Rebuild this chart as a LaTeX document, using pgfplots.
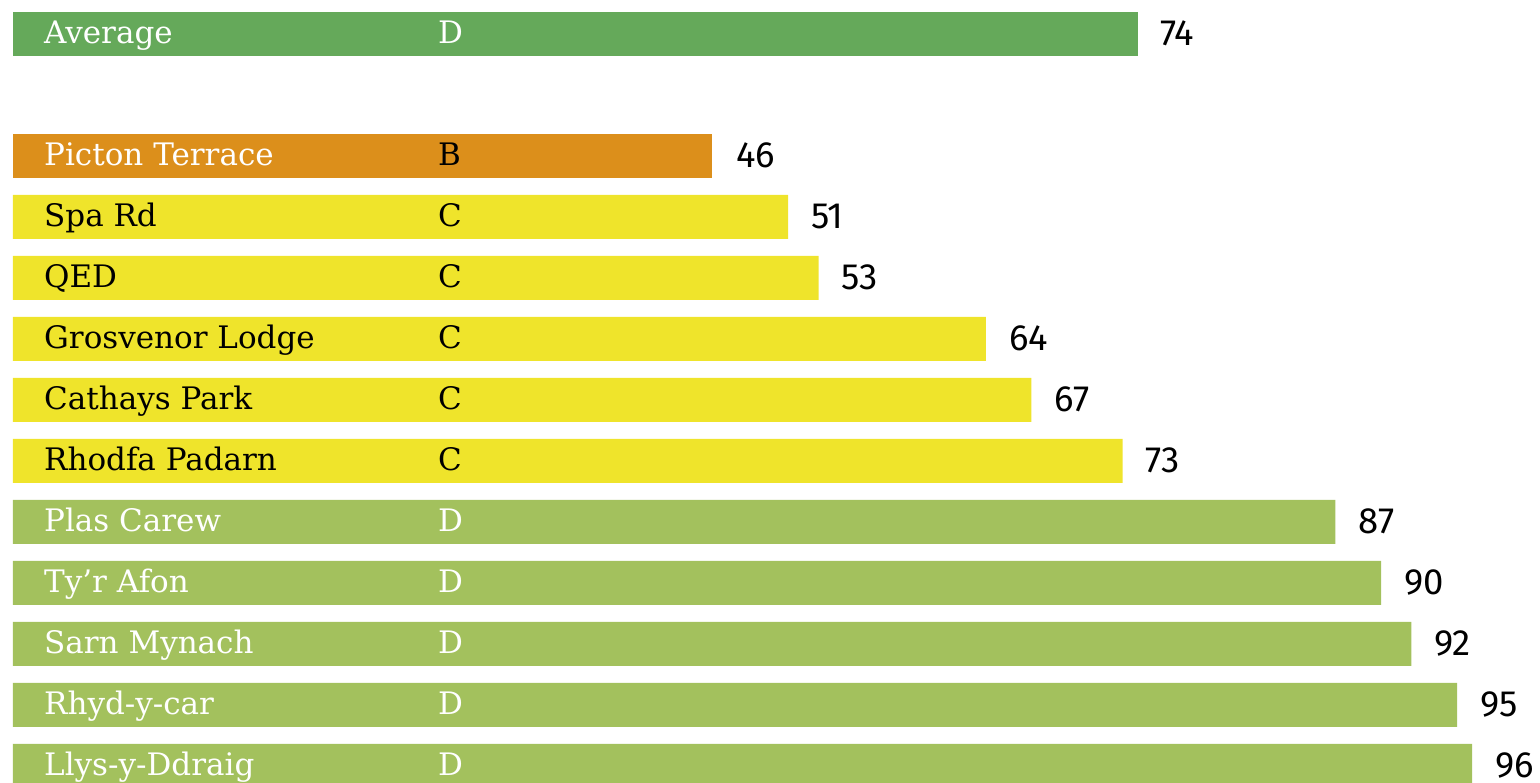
\documentclass[border=0pt]{standalone}
\usepackage{pgfplots}
\pgfplotsset{compat=1.18}
\usepackage{fontspec}
\setmainfont{DejaVu Serif}
\newfontfamily\numfont{Fira Sans}
\definecolor{avggreen}{HTML}{65A95A}
\definecolor{orangeb}{HTML}{DC8F1B}
\definecolor{yellowc}{HTML}{EFE42B}
\definecolor{greend}{HTML}{A3C15D}
\begin{document}
\begin{tikzpicture}
\begin{axis}[
  width=1540pt, height=783pt, scale only axis,
  hide axis,
  xmin=-0.855, xmax=100.46,
  y dir=reverse, ymin=-0.557, ymax=12.28,
  clip=false,
  /pgf/number format/assume math mode=true,
]
% bars
\addplot[xbar, bar shift=0pt, bar width=0.721, fill=avggreen, draw=none,
  nodes near coords, point meta=x,
  nodes near coords style={anchor=base west, inner sep=0pt, xshift=22pt, yshift=-12pt, text=black, font=\numfont\fontsize{36.5}{42}\selectfont}]
  coordinates {(74,0)};
\addplot[xbar, bar shift=0pt, bar width=0.721, fill=orangeb, draw=none,
  nodes near coords, point meta=x,
  nodes near coords style={anchor=base west, inner sep=0pt, xshift=24pt, yshift=-12pt, text=black, font=\numfont\fontsize{36.5}{42}\selectfont}]
  coordinates {(46,2)};
\addplot[xbar, bar shift=0pt, bar width=0.721, fill=yellowc, draw=none,
  nodes near coords, point meta=x,
  nodes near coords style={anchor=base west, inner sep=0pt, xshift=23pt, yshift=-12pt, text=black, font=\numfont\fontsize{36.5}{42}\selectfont}]
  coordinates {(51,3) (53,4) (64,5) (67,6) (73,7)};
\addplot[xbar, bar shift=0pt, bar width=0.721, fill=greend, draw=none,
  nodes near coords, point meta=x,
  nodes near coords style={anchor=base west, inner sep=0pt, xshift=23pt, yshift=-12pt, text=black, font=\numfont\fontsize{36.5}{42}\selectfont}]
  coordinates {(87,8) (90,9) (92,10) (95,11) (96,12)};
% names, white
\addplot[draw=none, mark=none, nodes near coords, point meta=explicit symbolic,
  nodes near coords style={anchor=base west, inner sep=0pt, xshift=31pt, yshift=-10pt, text=white, font=\fontsize{31}{37}\selectfont}]
  coordinates {(0,0) [Average] (0,2) [Picton Terrace] (0,8) [Plas Carew] (0,9) [Ty’r Afon] (0,10) [Sarn Mynach] (0,11) [Rhyd-y-car] (0,12) [Llys-y-Ddraig]};
% names, black
\addplot[draw=none, mark=none, nodes near coords, point meta=explicit symbolic,
  nodes near coords style={anchor=base west, inner sep=0pt, xshift=31pt, yshift=-10pt, text=black, font=\fontsize{31}{37}\selectfont}]
  coordinates {(0,3) [Spa Rd] (0,4) [QED] (0,5) [Grosvenor Lodge] (0,6) [Cathays Park] (0,7) [Rhodfa Padarn]};
% grades, white
\addplot[draw=none, mark=none, nodes near coords, point meta=explicit symbolic,
  nodes near coords style={anchor=base west, inner sep=0pt, yshift=-10pt, text=white, font=\fontsize{31}{37}\selectfont}]
  coordinates {(27.96,0) [D] (27.96,8) [D] (27.96,9) [D] (27.96,10) [D] (27.96,11) [D] (27.96,12) [D]};
% grades, black
\addplot[draw=none, mark=none, nodes near coords, point meta=explicit symbolic,
  nodes near coords style={anchor=base west, inner sep=0pt, yshift=-10pt, text=black, font=\fontsize{31}{37}\selectfont}]
  coordinates {(27.96,2) [B] (27.96,3) [C] (27.96,4) [C] (27.96,5) [C] (27.96,6) [C] (27.96,7) [C]};
\end{axis}
\pgfresetboundingbox
\useasboundingbox (current axis.south west) rectangle (current axis.north east);
\end{tikzpicture}
\end{document}
